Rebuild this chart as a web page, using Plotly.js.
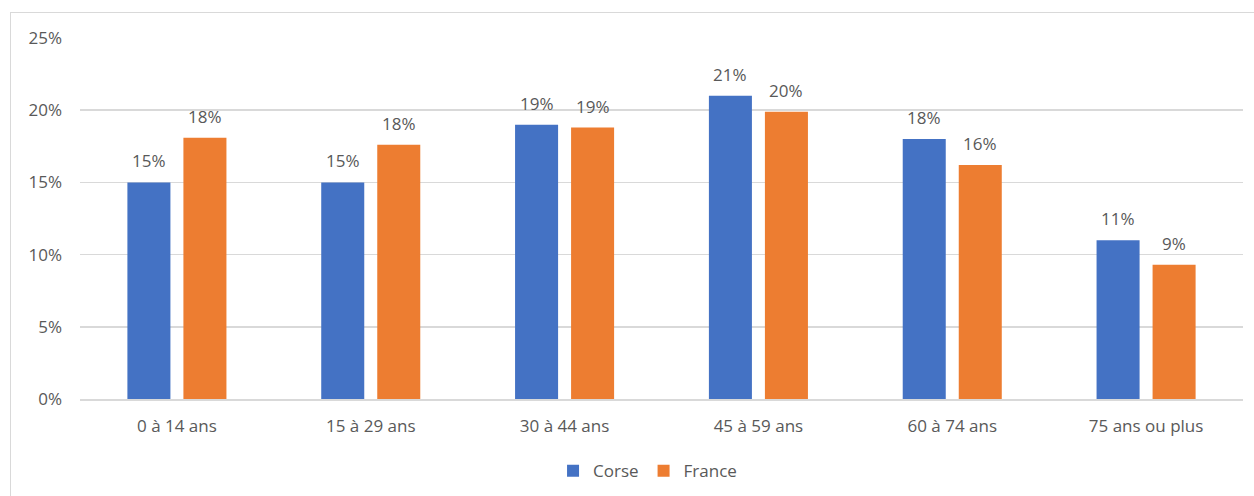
<!DOCTYPE html>
<html><head><meta charset="utf-8">
<script src="https://cdn.plot.ly/plotly-3.0.1.min.js"></script>
<style>
body{margin:0;background:#fff;}
#wrap{position:relative;width:1254px;height:496px;}
#chart{width:1254px;height:496px;}
#frame{position:absolute;left:10px;top:12px;width:1260px;height:500px;border:1px solid #D9D9D9;pointer-events:none;}
</style></head>
<body>
<div id="wrap"><div id="chart"></div><div id="frame"></div></div>
<script>
var categories = ["0 à 14 ans","15 à 29 ans","30 à 44 ans","45 à 59 ans","60 à 74 ans","75 ans ou plus"];
var corse = [15.0, 15.0, 19.0, 21.0, 18.0, 11.0];
var france = [18.1, 17.6, 18.8, 19.9, 16.2, 9.3];
var yTicks = [0,5,10,15,20,25];
var yTickLabels = ["0%","5%","10%","15%","20%","25%"];

function lbl(a){return a.map(function(v){return Math.round(v)+"%";});}
var font = {family:"'Open Sans', Lato, sans-serif", size:17, color:"#595959"};
var traces = [
 {type:"bar", name:"Corse", x:categories, y:corse, marker:{color:"#4472C4"}, hoverinfo:"x+y"},
 {type:"bar", name:"France", x:categories, y:france, marker:{color:"#ED7D31"}, hoverinfo:"x+y"}
];
var annotations = [];
[[corse,-28],[france,28]].forEach(function(p){
  p[0].forEach(function(v,i){
    annotations.push({x:categories[i], y:v, xref:"x", yref:"y", text:lbl([v])[0],
      showarrow:false, xshift:p[1], yshift:8, yanchor:"bottom", font:font});
  });
});
var layout = {
 width:1254, height:496,
 margin:{l:80, r:11, t:38, b:97, autoexpand:false},
 paper_bgcolor:"#fff", plot_bgcolor:"#fff",
 barmode:"group", bargap:0.422, bargroupgap:0.232,
 font:font,
 annotations:annotations,
 xaxis:{showgrid:false, zeroline:false, showline:true, linecolor:"#D9D9D9", linewidth:1.5,
   ticks:"", tickfont:font, ticklabelstandoff:11},
 yaxis:{range:[0,25], tickvals:yTicks, ticktext:yTickLabels, showgrid:true, gridcolor:"#D9D9D9",
   gridwidth:1.5, zeroline:false, showline:false, ticks:"", tickfont:font, ticklabelstandoff:17},
 showlegend:true,
 legend:{orientation:"h", x:0.488, xanchor:"center", y:-0.2, yanchor:"middle", font:font,
   itemwidth:20, traceorder:"normal"}
};
Plotly.newPlot("chart", traces, layout, {displayModeBar:false, staticPlot:true});
</script>
</body></html>
